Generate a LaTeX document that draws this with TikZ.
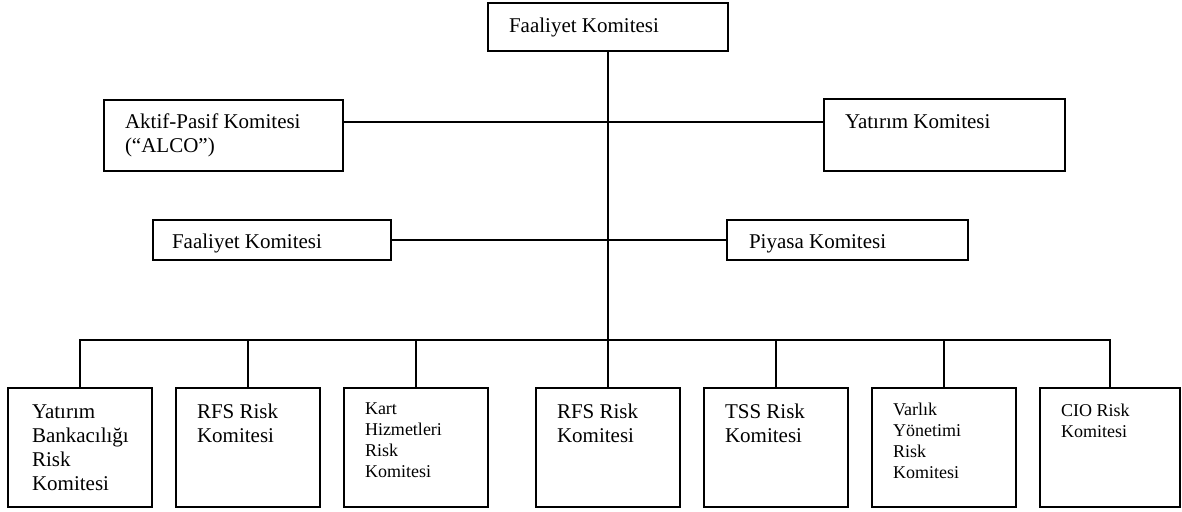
\documentclass[tikz,border=0pt]{standalone}
\usepackage{fontspec}
\setmainfont{Liberation Serif}
\newcommand{\bigtxt}{\fontsize{21pt}{24pt}\selectfont}
\newcommand{\smalltxt}{\fontsize{18pt}{21pt}\selectfont}
\newcommand{\boxtext}[4]{\node[txt] (#1t) at ([shift={(#2,#3)}]#1.north west) {\parbox[t]{200pt}{#4}};}
\begin{document}
\begin{tikzpicture}[x=1pt,y=-1pt,
  box/.style={draw, line width=2pt, rectangle, inner sep=0pt, outer sep=0pt},
  txt/.style={anchor=base west, inner sep=0pt, outer sep=0pt, align=left},
  conn/.style={line width=2pt}]
\useasboundingbox (0,0) rectangle (1182,511);
% boxes
\node[box, minimum width=240pt, minimum height=48pt] (top) at (608,27) {};
\node[box, minimum width=239pt, minimum height=71pt] (alco) at (223.5,135.5) {};
\node[box, minimum width=241pt, minimum height=72pt] (yat) at (944.5,135) {};
\node[box, minimum width=238pt, minimum height=40pt] (f2) at (272,240) {};
\node[box, minimum width=241pt, minimum height=40pt] (piy) at (847.5,240) {};
\node[box, minimum width=144pt, minimum height=119pt] (b1) at (80,447.5) {};
\node[box, minimum width=144pt, minimum height=119pt] (b2) at (248,447.5) {};
\node[box, minimum width=144pt, minimum height=119pt] (b3) at (416,447.5) {};
\node[box, minimum width=144pt, minimum height=119pt] (b4) at (608,447.5) {};
\node[box, minimum width=144pt, minimum height=119pt] (b5) at (776,447.5) {};
\node[box, minimum width=144pt, minimum height=119pt] (b6) at (944,447.5) {};
\node[box, minimum width=140pt, minimum height=119pt] (b7) at (1110,447.5) {};
% texts
\boxtext{top}{21}{30}{\bigtxt Faaliyet Komitesi}
\boxtext{alco}{21}{28}{\bigtxt Aktif-Pasif Komitesi\\(“ALCO”)}
\boxtext{yat}{21}{29}{\bigtxt Yatırım Komitesi}
\boxtext{f2}{19}{28}{\bigtxt Faaliyet Komitesi}
\boxtext{piy}{22}{28}{\bigtxt Piyasa Komitesi}
\boxtext{b1}{24}{30}{\bigtxt Yatırım\\Bankacılığı\\Risk\\Komitesi}
\boxtext{b2}{21}{30}{\bigtxt RFS Risk\\Komitesi}
\boxtext{b3}{21}{26}{\smalltxt Kart\\Hizmetleri\\Risk\\Komitesi}
\boxtext{b4}{21}{30}{\bigtxt RFS Risk\\Komitesi}
\boxtext{b5}{21}{30}{\bigtxt TSS Risk\\Komitesi}
\boxtext{b6}{21}{27}{\smalltxt Varlık\\Yönetimi\\Risk\\Komitesi}
\boxtext{b7}{21}{28}{\smalltxt CIO Risk\\Komitesi}
% connectors
\coordinate (j1) at (608,122);
\coordinate (bus) at (608,340);
\draw[conn] (top.south) -- (b4.north);
\draw[conn] (alco.east |- j1) -- (yat.west |- j1);
\draw[conn] (f2.east) -- (piy.west);
\draw[conn] (b1.north) -- (b1.north |- bus) -- (b7.north |- bus) -- (b7.north);
\draw[conn] (b2.north) -- (b2.north |- bus);
\draw[conn] (b3.north) -- (b3.north |- bus);
\draw[conn] (b5.north) -- (b5.north |- bus);
\draw[conn] (b6.north) -- (b6.north |- bus);
\end{tikzpicture}
\end{document}
